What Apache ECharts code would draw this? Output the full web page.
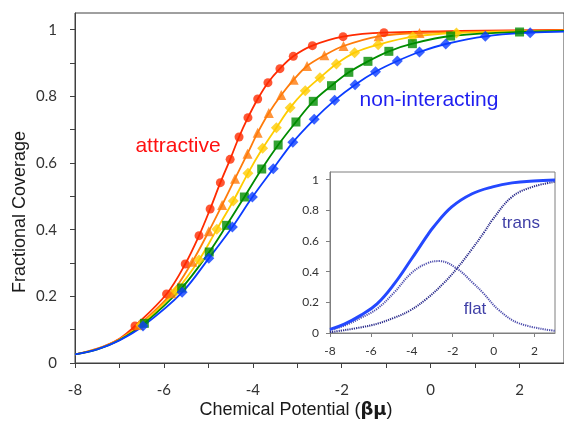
<!DOCTYPE html>
<html>
<head>
<meta charset="utf-8">
<script src="https://cdn.jsdelivr.net/npm/echarts@6/dist/echarts.min.js"></script>
<style>
  html, body { margin: 0; padding: 0; background: #fff; }
  #chart { width: 564px; height: 426px; }
</style>
</head>
<body>
<div id="chart"></div>
<script>
// Fractional coverage vs chemical potential for five interaction strengths
const redX    = [-6.65,-5.94,-5.52,-5.21,-4.96,-4.73,-4.51,-4.31,-4.11,-3.89,-3.66,-3.39,-3.09,-2.66,-1.97,-1.05];
const redY    = [0.111,0.207,0.297,0.382,0.462,0.541,0.611,0.678,0.736,0.792,0.841,0.883,0.920,0.952,0.979,0.991];
const orangeX = [-6.56,-5.83,-5.36,-4.99,-4.69,-4.40,-4.12,-3.89,-3.64,-3.36,-3.08,-2.78,-2.39,-1.96,-1.17,-0.25];
const orangeY = [0.114,0.209,0.304,0.395,0.474,0.553,0.628,0.691,0.750,0.804,0.850,0.891,0.923,0.951,0.980,0.990];
const yellowX = [-6.52,-5.73,-5.21,-4.81,-4.44,-4.11,-3.78,-3.47,-3.16,-2.82,-2.49,-2.12,-1.71,-1.18,-0.40,0.58];
const yellowY = [0.114,0.216,0.309,0.401,0.486,0.569,0.644,0.706,0.766,0.817,0.856,0.897,0.931,0.955,0.979,0.990];
const greenX  = [-6.44,-5.60,-4.98,-4.59,-4.19,-3.80,-3.43,-3.03,-2.64,-2.23,-1.84,-1.41,-0.94,-0.41,0.45,2.00];
const greenY  = [0.119,0.225,0.333,0.413,0.498,0.582,0.654,0.723,0.785,0.832,0.872,0.905,0.935,0.958,0.981,0.993];
const blueX   = [-6.47,-5.59,-4.99,-4.46,-4.01,-3.54,-3.10,-2.62,-2.16,-1.70,-1.24,-0.75,-0.25,0.34,1.23,2.24];
const blueY   = [0.111,0.212,0.314,0.408,0.498,0.583,0.662,0.731,0.788,0.835,0.874,0.906,0.933,0.957,0.980,0.991];

// fitted curves share the low-coverage tail and run out to the axis end
const leadX = [-8.0, -7.5, -7.0];
const leadY = { red: [0.026, 0.043, 0.073], orange: [0.026, 0.042, 0.071], yellow: [0.026, 0.042, 0.070],
                green: [0.026, 0.041, 0.069], blue: [0.026, 0.041, 0.068] };
const tailX = 3.0;
const tailY = { red: 0.999, orange: 0.998, yellow: 0.997, green: 0.996, blue: 0.994 };

// inset: total coverage and its flat / trans components
const totalX = [-8.0,-7.3,-6.5,-5.7,-4.85,-4.05,-3.25,-2.95,-2.05,-1.05,-0.05,0.9,1.95,3.0];
const totalY = [0.024,0.058,0.115,0.19,0.322,0.476,0.635,0.69,0.822,0.908,0.953,0.979,0.992,0.998];
const flatX  = [-8.0,-7.3,-6.5,-5.7,-4.85,-4.05,-3.25,-2.65,-1.8,-1.0,-0.5,0.25,1.25,3.0];
const flatY  = [0.018,0.048,0.098,0.158,0.266,0.387,0.455,0.469,0.42,0.325,0.259,0.15,0.063,0.014];
const transX = [-8.0,-6.0,-4.85,-4.05,-3.25,-2.45,-1.8,-1.1,-0.45,-0.05,0.9,1.9,3.0];
const transY = [0.005,0.05,0.1,0.15,0.226,0.324,0.42,0.54,0.66,0.74,0.888,0.953,0.986];

// tick positions and labels
const mainXTicks  = [-8,-7,-6,-5,-4,-3,-2,-1,0,1,2,3];
const mainXLabels = [-8,-6,-4,-2,0,2];
const mainYTicks  = [0,0.1,0.2,0.3,0.4,0.5,0.6,0.7,0.8,0.9,1.0];
const mainYLabels = [0,0.2,0.4,0.6,0.8,1.0];
const insetXLabels = [-8,-6,-4,-2,0,2];
const insetYLabels = [0,0.2,0.4,0.6,0.8,1.0];

const zip = (xs, ys) => xs.map((x, i) => [x, ys[i]]);
const curve = (key, xs, ys) => zip(leadX.concat(xs, [tailX]), leadY[key].concat(ys, [tailY[key]]));
const fmtY = v => { const r = Math.round(v * 10) / 10; return (r === 0 || r === 1) ? String(r) : r.toFixed(1); };

const groups = [
  { key: 'red',    color: '#ff2a00', xs: redX,    ys: redY,    symbol: 'circle',   size: 9 },
  { key: 'orange', color: '#ff7b0a', xs: orangeX, ys: orangeY, symbol: 'triangle', size: 10 },
  { key: 'yellow', color: '#ffcc00', xs: yellowX, ys: yellowY, symbol: 'diamond',  size: 11 },
  { key: 'green',  color: '#008c00', xs: greenX,  ys: greenY,  symbol: 'rect',     size: 9 },
  { key: 'blue',   color: '#0a3cff', xs: blueX,   ys: blueY,   symbol: 'diamond',  size: 11 }
];

const series = [];
groups.forEach((g, i) => {
  series.push({
    type: 'line', xAxisIndex: 0, yAxisIndex: 0, smooth: 0.35, showSymbol: false,
    data: curve(g.key, g.xs, g.ys),
    lineStyle: { color: g.color, width: 1.8 }, z: 2 + i, silent: true
  });
});
groups.forEach((g, i) => {
  series.push({
    type: 'scatter', xAxisIndex: 0, yAxisIndex: 0,
    data: zip(g.xs, g.ys), symbol: g.symbol, symbolSize: g.size,
    itemStyle: { color: g.color }, z: 10 + i, silent: true
  });
});
series.push(
  { type: 'line', xAxisIndex: 1, yAxisIndex: 1, smooth: 0.4, showSymbol: false,
    data: zip(flatX, flatY), lineStyle: { color: '#4f4fae', width: 2, type: [1.2, 1] }, z: 20 },
  { type: 'line', xAxisIndex: 1, yAxisIndex: 1, smooth: 0.4, showSymbol: false,
    data: zip(transX, transY), lineStyle: { color: '#27288a', width: 2, type: [1.2, 1] }, z: 20 },
  { type: 'line', xAxisIndex: 1, yAxisIndex: 1, smooth: 0.4, showSymbol: false,
    data: zip(totalX, totalY), lineStyle: { color: '#2448ff', width: 3 }, z: 21 }
);

const axisColor = '#404040';
const labelFont = 'Lato, "Open Sans", sans-serif';
const nameFont = '"Liberation Sans", Arial, sans-serif';

const chart = echarts.init(document.getElementById('chart'), null, { renderer: 'canvas' });
chart.setOption({
  animation: false,
  backgroundColor: '#ffffff',
  grid: [
    { left: 75, top: 13, right: 0, bottom: 63, show: true, borderColor: axisColor, borderWidth: 1, backgroundColor: 'transparent' },
    { left: 330, top: 172, right: 9, bottom: 93, show: true, borderColor: '#7f7f7f', borderWidth: 1, backgroundColor: '#ffffff' }
  ],
  xAxis: [
    { type: 'value', gridIndex: 0, min: -8, max: 3, interval: 1,
      axisLine: { show: true, onZero: false, lineStyle: { color: axisColor, width: 1 } },
      axisTick: { show: true, length: 5, customValues: mainXTicks, lineStyle: { color: axisColor } },
      axisLabel: { customValues: mainXLabels, margin: 20, fontSize: 15, color: '#333', fontFamily: labelFont },
      splitLine: { show: false } },
    { type: 'value', gridIndex: 1, min: -8, max: 3, interval: 1,
      axisLine: { show: true, onZero: false, lineStyle: { color: '#7f7f7f', width: 1 } },
      axisTick: { show: true, length: 4, customValues: insetXLabels, lineStyle: { color: '#7f7f7f' } },
      axisLabel: { customValues: insetXLabels, margin: 12, fontSize: 12, color: '#333', fontFamily: labelFont },
      splitLine: { show: false } }
  ],
  yAxis: [
    { type: 'value', gridIndex: 0, min: 0, max: 1.05, interval: 0.1,
      axisLine: { show: true, onZero: false, lineStyle: { color: axisColor, width: 1 } },
      axisTick: { show: true, length: 5, customValues: mainYTicks, lineStyle: { color: axisColor } },
      axisLabel: { customValues: mainYLabels, margin: 18, fontSize: 15, color: '#333', fontFamily: labelFont, formatter: fmtY },
      splitLine: { show: false } },
    { type: 'value', gridIndex: 1, min: 0, max: 1.05, interval: 0.2,
      axisLine: { show: true, onZero: false, lineStyle: { color: '#7f7f7f', width: 1 } },
      axisTick: { show: true, length: 4, customValues: insetYLabels, lineStyle: { color: '#7f7f7f' } },
      axisLabel: { customValues: insetYLabels, margin: 11, fontSize: 12, color: '#333', fontFamily: labelFont, formatter: fmtY },
      splitLine: { show: false } }
  ],
  graphic: [
    { type: 'text', x: 20, y: 212, rotation: Math.PI / 2,
      style: { text: 'Fractional Coverage', font: '18px ' + nameFont, fill: '#1a1a1a',
               align: 'center', verticalAlign: 'middle', textAlign: 'center', textVerticalAlign: 'middle' } },
    { type: 'text', x: 296, y: 410,
      style: { text: '{a|Chemical Potential (}{b|βμ}{a|)}', fill: '#1a1a1a',
               align: 'center', verticalAlign: 'middle', textAlign: 'center', textVerticalAlign: 'middle',
               rich: { a: { fontSize: 18, fontFamily: nameFont, fill: '#1a1a1a', color: '#1a1a1a' },
                       b: { fontSize: 18, fontFamily: '"DejaVu Sans", sans-serif', fontWeight: 'bold', fill: '#1a1a1a', color: '#1a1a1a' } } } },
    { type: 'text', x: 178, y: 146, z: 50,
      style: { text: 'attractive', font: '21px ' + nameFont, fill: '#ff1010',
               align: 'center', verticalAlign: 'middle', textAlign: 'center', textVerticalAlign: 'middle' } },
    { type: 'text', x: 429, y: 100, z: 50,
      style: { text: 'non-interacting', font: '21px ' + nameFont, fill: '#1f1ff0',
               align: 'center', verticalAlign: 'middle', textAlign: 'center', textVerticalAlign: 'middle' } },
    { type: 'text', x: 521, y: 223, z: 50,
      style: { text: 'trans', font: '17px ' + nameFont, fill: '#3f3fa6',
               align: 'center', verticalAlign: 'middle', textAlign: 'center', textVerticalAlign: 'middle' } },
    { type: 'text', x: 475, y: 309, z: 50,
      style: { text: 'flat', font: '17px ' + nameFont, fill: '#3f3fa6',
               align: 'center', verticalAlign: 'middle', textAlign: 'center', textVerticalAlign: 'middle' } }
  ],
  series: series
});
</script>
</body>
</html>
